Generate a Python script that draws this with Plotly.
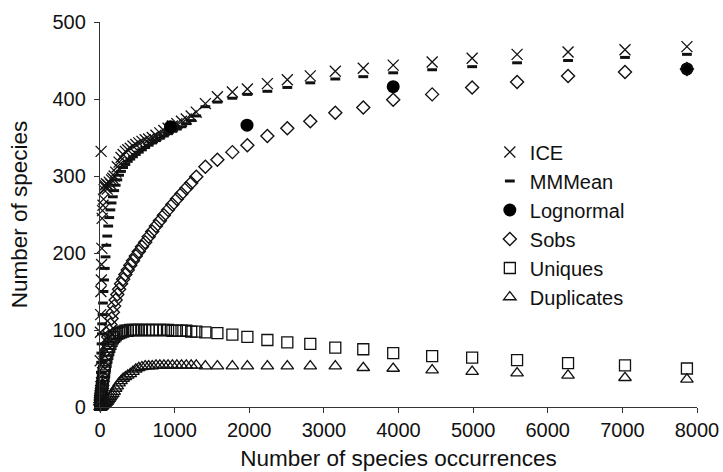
import plotly.graph_objects as go

# ---- data ----
occurrences = [3, 6, 9, 12, 15, 18, 21, 25, 29, 34,
               40, 47, 55, 64, 74, 85, 97, 110, 124, 139,
               155, 172, 190, 210, 232, 256, 282, 310, 340, 372,
               406, 442, 480, 520, 562, 606, 652, 700, 750, 802,
               856, 912, 970, 1030, 1092, 1156, 1222, 1290,
               1412, 1573, 1774, 1975, 2243, 2510, 2818, 3153,
               3528, 3929, 4451, 4987, 5589, 6272, 7035, 7865]

ice = [60, 97, 120, 150, 332, 165, 185, 206, 245, 255,
       262, 270, 282, 288, 285, 290, 283, 288, 292, 290,
       295, 297, 300, 305, 312, 318, 324, 328, 332, 334,
       336, 339, 341, 343, 345, 347, 348, 350, 353, 356,
       359, 362, 365, 368, 371, 374, 378, 383,
       394, 403, 409, 413, 420, 425, 430, 436,
       440, 444, 448, 453, 458, 461, 464, 468]

mmmean = [10, 20, 32, 45, 58, 70, 82, 95, 108, 120,
          135, 150, 165, 180, 195, 210, 222, 235, 246, 256,
          265, 273, 281, 288, 295, 301, 306, 311, 315, 319,
          322, 325, 328, 331, 334, 337, 340, 343, 346, 349,
          352, 355, 358, 361, 364, 368, 372, 378,
          390, 396, 401, 406, 410, 415, 421, 426,
          429, 434, 438, 442, 447, 450, 454, 458]

sobs = [3, 6, 9, 12, 15, 18, 21, 24, 28, 33,
        38, 44, 51, 58, 66, 74, 82, 91, 99, 107,
        115, 123, 131, 139, 146, 153, 160, 166, 172, 178,
        184, 190, 196, 202, 208, 214, 221, 228, 235, 242,
        249, 256, 263, 270, 277, 284, 291, 299,
        312, 321, 331, 340, 352, 362, 371, 382,
        389, 399, 406, 415, 422, 430, 435, 439]

uniques = [3, 6, 9, 12, 15, 17, 20, 23, 27, 31,
           36, 41, 47, 53, 59, 64, 69, 74, 78, 82,
           86, 89, 91, 93, 95, 96, 97, 98, 99, 99,
           100, 100, 100, 100, 100, 100, 100, 100, 100, 100,
           100, 100, 99, 99, 99, 99, 98, 98,
           97, 96, 94, 91, 87, 84, 82, 77,
           75, 70, 66, 64, 61, 57, 54, 50]

duplicates = [0, 0, 0, 0, 0, 1, 1, 1, 1, 2,
              2, 3, 3, 4, 5, 6, 7, 9, 11, 13,
              15, 17, 20, 24, 27, 31, 34, 37, 39, 41,
              43, 46, 49, 51, 52, 53, 53, 53, 54, 54,
              54, 54, 54, 54, 54, 54, 54, 54,
              53, 53, 53, 53, 53, 53, 53, 53,
              51, 50, 48, 46, 44, 41, 38, 36]

lognormal_x = [944, 1970, 3929, 7865]
lognormal = [364, 366, 416, 439]

x_ticks = [0, 1000, 2000, 3000, 4000, 5000, 6000, 7000, 8000]
y_ticks = [0, 100, 200, 300, 400, 500]

FONT = "Liberation Sans, Arial, Helvetica, sans-serif"
INK = "#111111"

fig = go.Figure()

fig.add_trace(go.Scatter(
    x=occurrences, y=ice, name="ICE", mode="markers", cliponaxis=False,
    marker=dict(symbol="x-thin-open", size=11, color=INK, line=dict(color=INK, width=1.3))))
fig.add_trace(go.Scatter(
    x=occurrences, y=mmmean, name="MMMean", mode="markers", cliponaxis=False,
    marker=dict(symbol="line-ew-open", size=7, color=INK, line=dict(color=INK, width=3))))
fig.add_trace(go.Scatter(
    x=lognormal_x, y=lognormal, name="Lognormal", mode="markers", cliponaxis=False,
    marker=dict(symbol="circle", size=13, color="#000000", line=dict(width=0))))
fig.add_trace(go.Scatter(
    x=occurrences, y=sobs, name="Sobs", mode="markers", cliponaxis=False,
    marker=dict(symbol="diamond-open", size=10, color=INK, line=dict(color=INK, width=1.4))))
fig.add_trace(go.Scatter(
    x=occurrences, y=uniques, name="Uniques", mode="markers", cliponaxis=False,
    marker=dict(symbol="square-open", size=11, color=INK, line=dict(color=INK, width=1.3))))
fig.add_trace(go.Scatter(
    x=occurrences, y=duplicates, name="Duplicates", mode="markers", cliponaxis=False,
    marker=dict(symbol="triangle-up-open", size=11, color=INK, line=dict(color=INK, width=1.3))))

axis_common = dict(
    showgrid=False, zeroline=False, showline=True, linecolor="#333333", linewidth=1.3,
    ticks="outside", ticklen=5, tickcolor="#333333", tickwidth=1.2, automargin=False,
    tickfont=dict(family=FONT, size=20, color="#111111"),
)

fig.update_layout(
    width=723, height=472,
    margin=dict(l=100, r=26, t=22, b=65),
    paper_bgcolor="white", plot_bgcolor="white",
    font=dict(family=FONT, color="#111111"),
    xaxis=dict(range=[0, 8000], tickvals=x_ticks, ticktext=[str(v) for v in x_ticks],
               title=dict(text="Number of species occurrences", font=dict(family=FONT, size=22.5), standoff=10),
               **axis_common),
    yaxis=dict(range=[0, 500], tickvals=y_ticks, ticktext=[str(v) for v in y_ticks],
               ticklabelstandoff=4,
               title=dict(text="Number of species", font=dict(family=FONT, size=22.5), standoff=18),
               **axis_common),
    legend=dict(x=0.653, y=0.713, xanchor="left", yanchor="top",
                font=dict(family=FONT, size=20, color="#111111"),
                bgcolor="rgba(0,0,0,0)", borderwidth=0, itemsizing="trace"),
    showlegend=True,
)

# remove the browser's default 8px body margin so the 723x472 figure fills the window
fig.write_html("out.html", config={"displayModeBar": False},
               post_script="document.body.style.margin='0px';")
